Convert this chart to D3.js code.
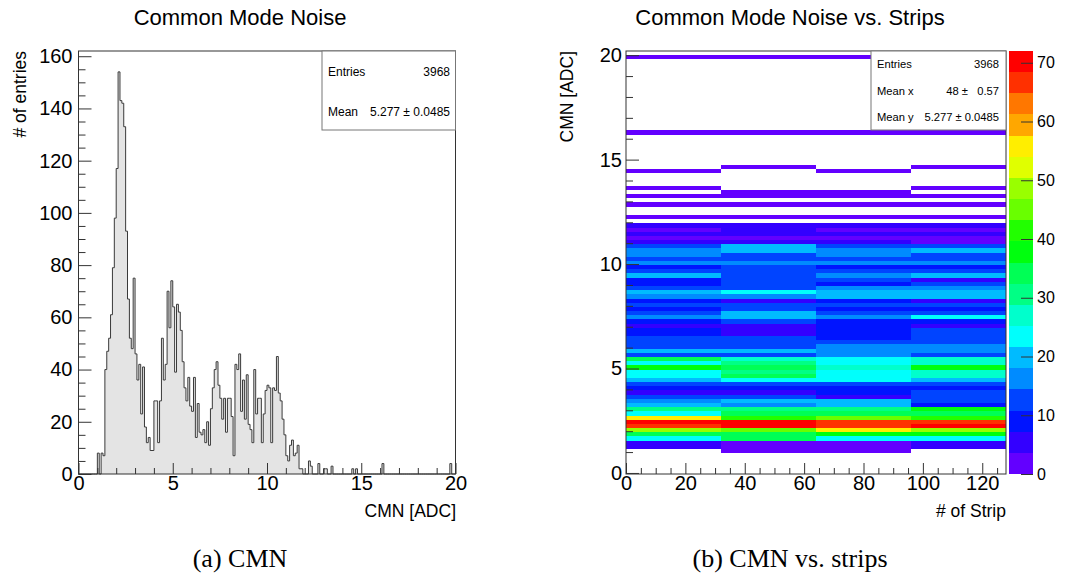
<!DOCTYPE html>
<html>
<head>
<meta charset="utf-8">
<script src="https://cdn.jsdelivr.net/npm/d3@7"></script>
<style>
    body { margin: 0; background: #fff; }
    text { font-family: "Liberation Sans", Arial, sans-serif; fill: #000; }
    .caption { font-family: "Liberation Serif", "DejaVu Serif", serif; }
</style>
</head>
<body>
<svg id="chart" width="1070" height="574"></svg>
<script>
// ---- left: 1D histogram of the common mode noise (0.1 ADC bins) ----
var cmnFirstBin = 1.0;
var cmnBinWidth = 0.1;
var cmnCounts = [
    8, 0, 8, 7, 40, 47, 52, 61, 79, 98,
    117, 154, 143, 142, 133, 93, 67, 52, 48, 75,
    46, 36, 42, 23, 41, 18, 12, 14, 9, 9,
    28, 28, 12, 28, 52, 36, 42, 70, 56, 74,
    64, 39, 65, 62, 55, 43, 33, 28, 37, 26,
    24, 37, 14, 27, 16, 15, 17, 12, 20, 11,
    25, 33, 40, 43, 34, 29, 21, 29, 16, 29,
    29, 22, 7, 42, 40, 46, 24, 36, 21, 38,
    19, 17, 12, 40, 23, 29, 29, 12, 23, 32,
    34, 33, 12, 33, 32, 45, 31, 28, 21, 15,
    7, 5, 11, 13, 7, 8, 11, 2, 2, 0,
    0, 0, 5, 3
];
var cmnTailX = [12.7, 13.0, 13.1, 13.4, 14.5, 14.7, 16.1, 19.7];
var cmnTailCounts = [4, 2, 2, 3, 2, 2, 4, 4];

// ---- right: CMN vs strip group (4 groups of 32 strips, 0.2 ADC rows) ----
var stripEdges = [0, 32, 64, 96, 128];
var cmnRowHeight = 0.2;
var cmnRowLow = [
    0.95, 1.15, 1.35, 1.55, 1.75, 1.95, 2.15, 2.35, 2.55, 2.75,
    2.95, 3.15, 3.35, 3.55, 3.75, 3.95, 4.15, 4.35, 4.55, 4.75,
    4.95, 5.15, 5.35, 5.55, 5.75, 5.95, 6.15, 6.35, 6.55, 6.75,
    6.95, 7.15, 7.35, 7.55, 7.75, 7.95, 8.15, 8.35, 8.55, 8.75,
    8.95, 9.15, 9.35, 9.55, 9.75, 9.95, 10.15, 10.35, 10.55, 10.75,
    10.95, 11.15, 11.35, 11.55, 11.75,
    12.15, 12.75, 13.15, 13.35, 13.55, 14.35, 14.55, 16.2, 19.8
];
var strip0to32 = [
    0, 5, 5, 23, 34, 49, 67, 70, 56, 23,
    31, 20, 16, 13, 5, 9, 13, 20, 23, 23,
    38, 23, 34, 13, 20, 13, 13, 13, 9, 9,
    5, 9, 16, 13, 9, 13, 9, 16, 20, 13,
    9, 9, 20, 13, 9, 16, 13, 16, 16, 13,
    5, 2, 5, 2, 5,
    2, 2, 2, 0, 2, 2, 0, 2, 2
];
var strip32to64 = [
    2, 2, 2, 34, 34, 45, 70, 70, 41, 34,
    31, 16, 20, 13, 5, 9, 13, 23, 34, 31,
    34, 31, 27, 13, 20, 13, 13, 13, 5, 5,
    5, 13, 20, 20, 13, 13, 5, 16, 23, 13,
    13, 13, 13, 13, 13, 16, 13, 13, 20, 20,
    5, 2, 5, 5, 5,
    2, 2, 2, 2, 0, 0, 2, 2, 2
];
var strip64to96 = [
    2, 2, 2, 23, 38, 56, 67, 67, 45, 34,
    31, 20, 20, 5, 9, 9, 13, 23, 23, 23,
    27, 23, 23, 16, 16, 16, 13, 9, 9, 9,
    9, 9, 16, 13, 9, 13, 9, 20, 20, 16,
    9, 13, 16, 13, 9, 16, 13, 16, 16, 13,
    5, 2, 5, 2, 5,
    2, 2, 2, 2, 0, 2, 0, 2, 2
];
var strip96to128 = [
    0, 5, 5, 23, 38, 49, 70, 67, 41, 34,
    38, 9, 13, 13, 13, 9, 13, 20, 27, 27,
    38, 27, 27, 13, 16, 16, 13, 13, 13, 13,
    5, 9, 23, 13, 9, 13, 5, 20, 20, 16,
    13, 5, 20, 13, 9, 16, 13, 13, 20, 13,
    2, 2, 5, 2, 5,
    2, 2, 2, 0, 2, 0, 2, 2, 2
];
var zMax = 72;
var nLevels = 20;

var svg = d3.select("#chart");

// ROOT "pretty palette": 50 HLS colours from violet to red, 20 contour levels
function levelColor(j) {
    var idx = Math.floor((j + 0.99) * 50 / nLevels);
    return d3.hsl(280 - (idx + 1) * 5.6, 1, 0.5).toString();
}
function countColor(v) {
    return levelColor(Math.min(nLevels - 1, Math.floor(v / zMax * nLevels)));
}

function ticks(g, axis, major, minor, majorLen, minorLen, pad, size) {
    g.append("g")
        .call(axis.tickValues(minor.filter(d => major.indexOf(d) < 0)).tickFormat("").tickSize(-minorLen))
        .call(s => s.select(".domain").remove());
    g.append("g")
        .call(axis.tickValues(major).tickFormat(d3.format("d")).tickSize(-majorLen).tickPadding(pad))
        .attr("font-size", size)
        .attr("font-family", "Liberation Sans, Arial, sans-serif")
        .call(s => s.select(".domain").remove());
    g.selectAll("line").attr("stroke", "#333");
}

// ================= left panel =================
var xL = d3.scaleLinear().domain([0, 20]).range([78.5, 455.5]);
var yL = d3.scaleLinear().domain([0, 162]).range([474, 51]);

var nBins = 200;
var counts = new Array(nBins).fill(0);
cmnCounts.forEach((c, i) => counts[Math.round(cmnFirstBin / cmnBinWidth) + i] = c);
cmnTailX.forEach((x, i) => counts[Math.round(x / cmnBinWidth)] = cmnTailCounts[i]);
var steps = counts.map((c, i) => ({ x: i * cmnBinWidth, c: c }));
steps.push({ x: 20, c: counts[nBins - 1] });

var left = svg.append("g");

left.append("path")
    .datum(steps)
    .attr("fill", "#e4e4e4")
    .attr("d", d3.area().curve(d3.curveStepAfter)
        .x(d => xL(d.x)).y0(yL(0)).y1(d => yL(d.c)));

left.append("path")
    .datum(steps)
    .attr("fill", "none")
    .attr("stroke", "#3a3a3a")
    .attr("stroke-width", 1)
    .attr("d", d3.line().curve(d3.curveStepAfter)
        .x(d => xL(d.x)).y(d => yL(d.c)));

ticks(left.append("g").attr("transform", "translate(0," + yL(0) + ")"),
    d3.axisBottom(xL), d3.range(0, 21, 5), d3.range(0, 21, 1), 11, 6, 2, 20);
ticks(left.append("g").attr("transform", "translate(" + xL(0) + ",0)"),
    d3.axisLeft(yL), d3.range(0, 161, 20), d3.range(0, 161, 5), 13, 7, 6, 20);

left.append("rect")
    .attr("x", xL(0)).attr("y", 51)
    .attr("width", xL(20) - xL(0)).attr("height", yL(0) - 51)
    .attr("fill", "none").attr("stroke", "#333");

// stats box
var statL = left.append("g");
statL.append("rect")
    .attr("x", 322).attr("y", 51).attr("width", xL(20) - 322).attr("height", 79)
    .attr("fill", "#fff").attr("stroke", "#777");
statL.append("text").attr("x", 328).attr("y", 76).attr("font-size", 12).text("Entries");
statL.append("text").attr("x", 450).attr("y", 76).attr("font-size", 12).attr("text-anchor", "end").text("3968");
statL.append("text").attr("x", 328).attr("y", 116).attr("font-size", 12).text("Mean");
statL.append("text").attr("x", 450).attr("y", 116).attr("font-size", 12).attr("text-anchor", "end").text("5.277 \u00b1 0.0485");

left.append("text").attr("x", 240).attr("y", 25).attr("text-anchor", "middle")
    .attr("font-size", 22).text("Common Mode Noise");
left.append("text").attr("transform", "translate(26,51) rotate(-90)")
    .attr("text-anchor", "end").attr("font-size", 17.5).text("# of entries");
left.append("text").attr("x", 456).attr("y", 517).attr("text-anchor", "end")
    .attr("font-size", 17.5).text("CMN [ADC]");
left.append("text").attr("class", "caption").attr("x", 240).attr("y", 567)
    .attr("text-anchor", "middle").attr("font-size", 26).text("(a) CMN");

// ================= right panel =================
var xR = d3.scaleLinear().domain([0, 128]).range([626, 1006]);
var yR = d3.scaleLinear().domain([-0.05, 20.2]).range([474, 51]);
var zR = d3.scaleLinear().domain([0, zMax]).range([474, 51]);

var right = svg.append("g");
var columns = [strip0to32, strip32to64, strip64to96, strip96to128];

var cells = [];
cmnRowLow.forEach((low, r) => {
    columns.forEach((col, c) => {
        if (col[r] > 0) cells.push({ x0: stripEdges[c], x1: stripEdges[c + 1], y0: low, v: col[r] });
    });
});

right.append("g")
    .attr("shape-rendering", "crispEdges")
    .selectAll("rect")
    .data(cells)
    .enter()
    .append("rect")
    .attr("x", d => xR(d.x0))
    .attr("width", d => xR(d.x1) - xR(d.x0))
    .attr("y", d => yR(d.y0 + cmnRowHeight))
    .attr("height", d => yR(d.y0) - yR(d.y0 + cmnRowHeight))
    .attr("fill", d => countColor(d.v));

ticks(right.append("g").attr("transform", "translate(0," + yR(-0.05) + ")"),
    d3.axisBottom(xR), d3.range(0, 121, 20), d3.range(0, 128, 5), 11, 6, 2, 20);
ticks(right.append("g").attr("transform", "translate(" + xR(0) + ",0)"),
    d3.axisLeft(yR), d3.range(0, 21, 5), d3.range(0, 21, 1), 13, 7, 4, 20);

right.append("rect")
    .attr("x", xR(0)).attr("y", 51)
    .attr("width", xR(128) - xR(0)).attr("height", 474 - 51)
    .attr("fill", "none").attr("stroke", "#333");

// palette
var levels = d3.range(nLevels);
right.append("g")
    .attr("shape-rendering", "crispEdges")
    .selectAll("rect")
    .data(levels)
    .enter()
    .append("rect")
    .attr("x", 1009)
    .attr("width", 24)
    .attr("y", d => zR((d + 1) * zMax / nLevels))
    .attr("height", d => zR(d * zMax / nLevels) - zR((d + 1) * zMax / nLevels))
    .attr("fill", d => levelColor(d));

var pal = right.append("g").attr("transform", "translate(1033,0)")
    .call(d3.axisRight(zR).tickValues(d3.range(0, 71, 10)).tickSize(-12).tickPadding(4))
    .attr("font-size", 16)
    .attr("font-family", "Liberation Sans, Arial, sans-serif");
pal.select(".domain").remove();
pal.selectAll("line").attr("stroke", "#333");

// stats box
var statR = right.append("g");
statR.append("rect")
    .attr("x", 871).attr("y", 51).attr("width", 135).attr("height", 79)
    .attr("fill", "#fff").attr("stroke", "#777");
var statRows = [["Entries", "3968", 68], ["Mean x", "48 \u00b1   0.57", 95], ["Mean y", "5.277 \u00b1 0.0485", 121]];
statRows.forEach(r => {
    statR.append("text").attr("x", 877).attr("y", r[2]).attr("font-size", 11.2).text(r[0]);
    statR.append("text").attr("x", 999).attr("y", r[2]).attr("font-size", 11.2)
        .attr("text-anchor", "end").style("white-space", "pre").text(r[1]);
});

right.append("text").attr("x", 790).attr("y", 25).attr("text-anchor", "middle")
    .attr("font-size", 22).text("Common Mode Noise vs. Strips");
right.append("text").attr("transform", "translate(573,51) rotate(-90)")
    .attr("text-anchor", "end").attr("font-size", 17.5).text("CMN [ADC]");
right.append("text").attr("x", 1006).attr("y", 517).attr("text-anchor", "end")
    .attr("font-size", 17.5).text("# of Strip");
right.append("text").attr("class", "caption").attr("x", 790).attr("y", 567)
    .attr("text-anchor", "middle").attr("font-size", 26).text("(b) CMN vs. strips");
</script>
</body>
</html>
